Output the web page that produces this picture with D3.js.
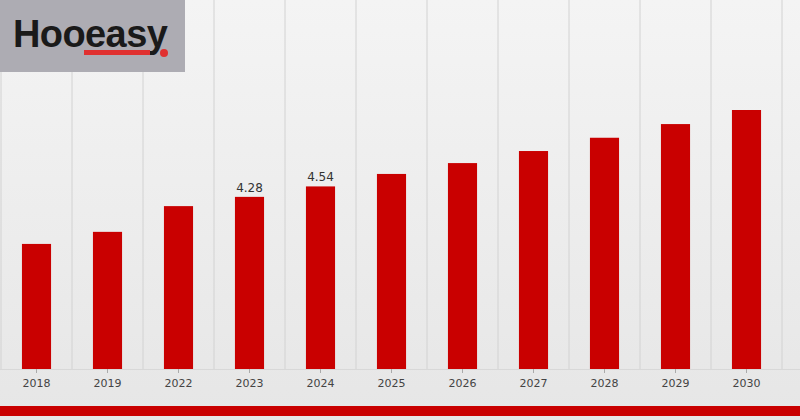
<!DOCTYPE html><html><head><script src="https://cdn.jsdelivr.net/npm/d3@7"></script>
<style>body{margin:0;background:#ededed}</style></head><body><svg width="800" height="420"></svg>
<script>
const years=["2018","2019","2022","2023","2024","2025","2026","2027","2028","2029","2030"];
const values=[3.11,3.41,4.05,4.28,4.54,4.85,5.12,5.42,5.75,6.09,6.44];
const labels=[null,null,null,"4.28","4.54",null,null,null,null,null,null];
const svg=d3.select("svg");
const defs=svg.append("defs");
const g=defs.append("linearGradient").attr("id","bg").attr("x1",0).attr("x2",0).attr("y1",0).attr("y2",1);
g.append("stop").attr("offset",0).attr("stop-color","#f4f4f4");
g.append("stop").attr("offset",1).attr("stop-color","#e6e6e6");
svg.append("rect").attr("width",800).attr("height",420).attr("fill","url(#bg)");
const x=d3.scaleBand().domain(years).range([1,782]).paddingInner(0.59).paddingOuter(0.295);
const y=d3.scaleLinear().domain([0,6.44]).range([369,110]);
const step=x.step();
const gl=d3.range(years.length+1).map(i=>1+i*step);
svg.selectAll("line.g").data(gl).join("line").attr("x1",d=>d).attr("x2",d=>d).attr("y1",0).attr("y2",369).attr("stroke","#d2d2d2");
svg.append("line").attr("x1",0).attr("x2",800).attr("y1",369.5).attr("y2",369.5).attr("stroke","#d8d8d8");
const data=years.map((yr,i)=>({yr,v:values[i],l:labels[i]}));
svg.selectAll("rect.b").data(data).join("rect").attr("x",d=>x(d.yr)).attr("width",x.bandwidth())
 .attr("y",d=>y(d.v)).attr("height",d=>369-y(d.v)).attr("fill","#c90000");
svg.selectAll("text.v").data(data.filter(d=>d.l)).join("text").attr("x",d=>x(d.yr)+x.bandwidth()/2).attr("y",d=>y(d.v)-5)
 .attr("text-anchor","middle").attr("font-family","DejaVu Sans").attr("font-size",12).attr("fill","#333").text(d=>d.l);
const ax=svg.append("g").attr("transform","translate(0,369)").call(d3.axisBottom(x).tickSize(4).tickPadding(6));
ax.select(".domain").remove();
ax.selectAll("line").attr("stroke","#aaa");
ax.selectAll("text").attr("font-family","DejaVu Sans").attr("font-size",11).attr("fill","#444");
svg.append("rect").attr("x",0).attr("y",406).attr("width",800).attr("height",10).attr("fill","#c90000");
svg.append("rect").attr("width",185).attr("height",72).attr("fill","#adacb3");
svg.append("text").attr("x",13).attr("y",47).attr("font-family","Liberation Sans").attr("font-weight","bold").attr("font-size",38).attr("letter-spacing",-0.6).attr("fill","#1a1a1a").text("Hooeasy");
svg.append("rect").attr("x",84).attr("y",50).attr("width",66).attr("height",5).attr("fill","#e03030");
svg.append("circle").attr("cx",164).attr("cy",53).attr("r",4).attr("fill","#e03030");
</script></body></html>
